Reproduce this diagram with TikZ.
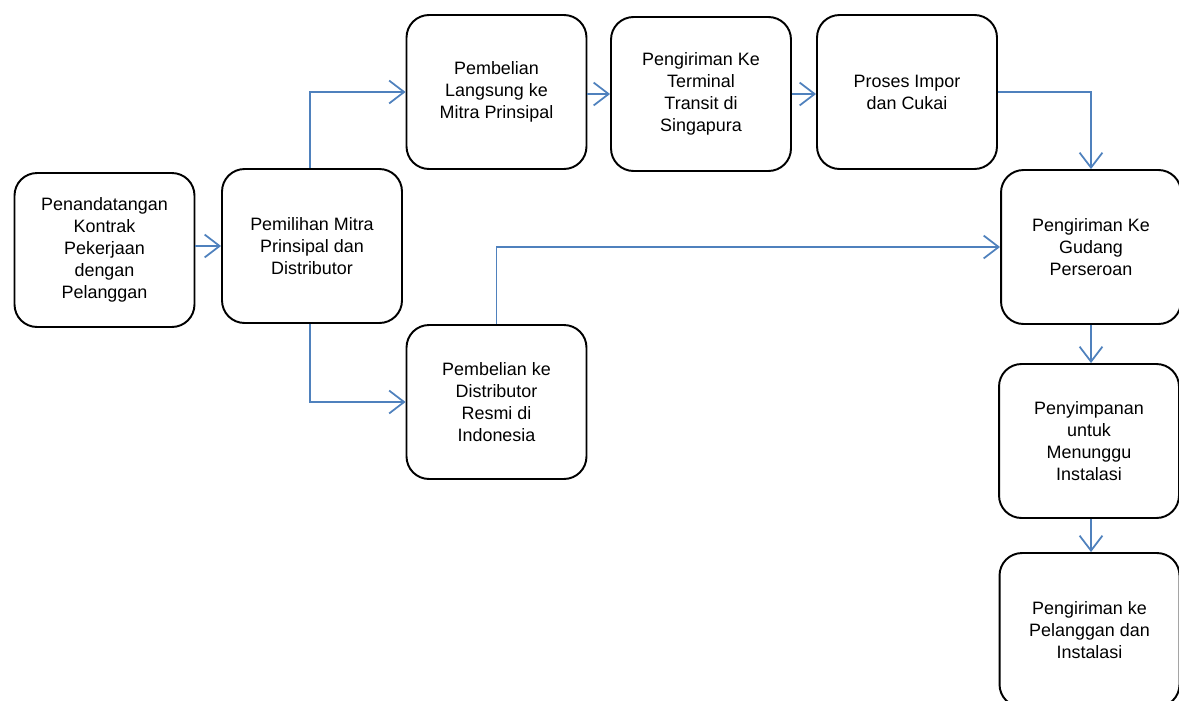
\documentclass[tikz,border=0pt]{standalone}
\usepackage{fontspec}
\setmainfont{Liberation Sans}
\usetikzlibrary{arrows.meta}
\definecolor{flowblue}{RGB}{79,129,189}
\tikzset{
  stepbox/.style={draw=black, line width=1.1pt, rounded corners=0.45cm,
    minimum width=3.6cm, minimum height=3.08cm, align=center,
    font=\fontsize{10.2}{12.5}\selectfont},
  flow/.style={draw=flowblue, line width=1pt,
    -{Straight Barb[length=8.5pt,width=13pt,line width=1pt]}}
}

\begin{document}
\begin{tikzpicture}[x=0.02cm,y=-0.02cm]
  \useasboundingbox (0,0) rectangle (1179,700);
  % boxes
  \node[stepbox] (kontrak)   at (104.5,250) {Penandatangan\\Kontrak\\Pekerjaan\\dengan\\Pelanggan};
  \node[stepbox] (pemilihan) at (312,246)   {Pemilihan Mitra\\Prinsipal dan\\Distributor};
  \node[stepbox] (langsung)  at (496.5,92)  {Pembelian\\Langsung ke\\Mitra Prinsipal};
  \node[stepbox] (transit)   at (701,94)    {Pengiriman Ke\\Terminal\\Transit di\\Singapura};
  \node[stepbox] (impor)     at (907,92)    {Proses Impor\\dan Cukai};
  \node[stepbox] (distrib)   at (496.5,402) {Pembelian ke\\Distributor\\Resmi di\\Indonesia};
  \node[stepbox] (gudang)    at (1091,247)  {Pengiriman Ke\\Gudang\\Perseroan};
  \node[stepbox] (simpan)    at (1089,441)  {Penyimpanan\\untuk\\Menunggu\\Instalasi};
  \node[stepbox] (instalasi) at (1089.5,630) {Pengiriman ke\\Pelanggan dan\\Instalasi};
  % connectors
  \draw[flow] (kontrak.east |- pemilihan.west) -- (pemilihan.west);
  \draw[flow] ([xshift=-0.04cm]pemilihan.north) |- (langsung.west);
  \draw[flow] ([xshift=-0.04cm]pemilihan.south) |- (distrib.west);
  \draw[flow] (langsung.east |- transit.west) -- (transit.west);
  \draw[flow] (transit.east) -- (transit.east -| impor.west);
  \draw[flow] (impor.east) -| (gudang.north);
  \draw[flow] (distrib.north) |- (gudang.west);
  \draw[flow] (gudang.south) -- (gudang.south |- simpan.north);
  \draw[flow] (gudang.south |- simpan.south) -- (gudang.south |- instalasi.north);
\end{tikzpicture}
\end{document}
